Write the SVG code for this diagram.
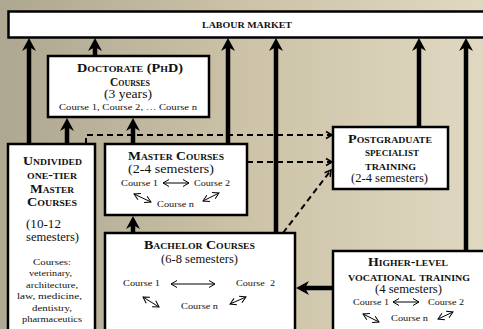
<svg xmlns="http://www.w3.org/2000/svg" width="483" height="329" viewBox="0 0 483 329">
<defs>
<linearGradient id="bg" x1="0" y1="0" x2="1" y2="0">
<stop offset="0" stop-color="#aea791"/>
<stop offset="0.5" stop-color="#cbc2a7"/>
<stop offset="1" stop-color="#e0d8c1"/>
</linearGradient>
<marker id="big" markerUnits="userSpaceOnUse" markerWidth="14" markerHeight="16" viewBox="0 -8 14 16" refX="4" refY="0" orient="auto">
<path d="M13,0 L0,-7 L4,0 L0,7 Z" fill="#000"/>
</marker>
<marker id="dash" markerUnits="userSpaceOnUse" markerWidth="10" markerHeight="10" viewBox="0 -5 10 10" refX="7" refY="0" orient="auto">
<path d="M1,-3.5 L7,0 L1,3.5" fill="none" stroke="#000" stroke-width="1.6"/>
</marker>
<marker id="sm" markerUnits="userSpaceOnUse" markerWidth="10" markerHeight="10" viewBox="0 -5 10 10" refX="7" refY="0" orient="auto-start-reverse">
<path d="M1,-3.5 L7,0 L1,3.5" fill="none" stroke="#000" stroke-width="1"/>
</marker>
</defs>
<style>
.box{fill:#fff;stroke:#000;stroke-width:2.5}
.t{font-family:"Liberation Serif","Times New Roman",serif;fill:#111;text-anchor:middle}
.h{font-weight:bold;font-variant:small-caps;font-size:11.5px}
.s{font-size:11.5px}
.c{font-size:8.5px}
.thick{stroke:#000;stroke-width:4.5;fill:none;marker-end:url(#big)}
.dsh{stroke:#000;stroke-width:2;stroke-dasharray:6 4;fill:none;marker-end:url(#dash)}
.ca{stroke:#000;stroke-width:1;fill:none;marker-start:url(#sm);marker-end:url(#sm)}
</style>
<rect width="483" height="329" fill="url(#bg)"/>

<g id="connectors">
<path class="thick" d="M29,144 V47"/>
<path class="thick" d="M95,56 V47"/>
<path class="thick" d="M228,144 V47"/>
<path class="thick" d="M276,233 V47"/>
<path class="thick" d="M419,127 V47"/>
<path class="thick" d="M466,251 V47"/>
<path class="thick" d="M67,144 V127"/>
<path class="thick" d="M133,144 V127"/>
<path class="thick" d="M133,233 V225"/>
<path class="thick" d="M333,288 H305"/>
<path class="dsh" d="M86,144 V135 H332"/>
<path class="dsh" d="M247,162 H332"/>
<path class="dsh" d="M283,233 L331,170"/>
</g>

<g id="labour-market">
<rect class="box" x="8.5" y="11.5" width="490" height="26"/>
<text class="t" x="247" y="27.5" font-size="8.5" font-weight="bold" textLength="90" lengthAdjust="spacingAndGlyphs">LABOUR MARKET</text>
</g>

<g id="doctorate">
<rect class="box" x="48" y="56" width="161" height="61"/>
<text class="t h" x="130" y="72" textLength="106" lengthAdjust="spacingAndGlyphs">Doctorate (PhD)</text>
<text class="t h" x="130" y="86" textLength="40" lengthAdjust="spacingAndGlyphs">Courses</text>
<text class="t s" x="128" y="98" textLength="48" lengthAdjust="spacingAndGlyphs">(3  years)</text>
<text class="t c" x="128" y="110" textLength="138" lengthAdjust="spacingAndGlyphs">Course 1, Course 2, … Course n</text>
</g>

<g id="undivided">
<rect class="box" x="8" y="144" width="87" height="200"/>
<text class="t h" x="52.5" y="165" textLength="59" lengthAdjust="spacingAndGlyphs">Undivided</text>
<text class="t h" x="52" y="179" textLength="50" lengthAdjust="spacingAndGlyphs">one-tier</text>
<text class="t h" x="52" y="193" textLength="44" lengthAdjust="spacingAndGlyphs">Master</text>
<text class="t h" x="52" y="206" textLength="50" lengthAdjust="spacingAndGlyphs">Courses</text>
<text class="t s" x="43.5" y="228" textLength="35" lengthAdjust="spacingAndGlyphs">(10-12</text>
<text class="t s" x="52.5" y="241" textLength="53" lengthAdjust="spacingAndGlyphs">semesters)</text>
<text class="t c" x="52" y="265" textLength="38" lengthAdjust="spacingAndGlyphs">Courses:</text>
<text class="t c" x="50.5" y="276" textLength="43" lengthAdjust="spacingAndGlyphs">veterinary,</text>
<text class="t c" x="52" y="288" textLength="52" lengthAdjust="spacingAndGlyphs">architecture,</text>
<text class="t c" x="49.5" y="299" textLength="65" lengthAdjust="spacingAndGlyphs">law, medicine,</text>
<text class="t c" x="52" y="311" textLength="40" lengthAdjust="spacingAndGlyphs">dentistry,</text>
<text class="t c" x="52" y="322" textLength="60" lengthAdjust="spacingAndGlyphs">pharmaceutics</text>
</g>

<g id="master">
<rect class="box" x="105" y="144" width="142" height="71"/>
<text class="t h" x="176" y="160" textLength="96" lengthAdjust="spacingAndGlyphs">Master Courses</text>
<text class="t s" x="171" y="173" textLength="86" lengthAdjust="spacingAndGlyphs">(2-4 semesters)</text>
<text class="t c" x="139.5" y="186" textLength="37" lengthAdjust="spacingAndGlyphs">Course 1</text>
<text class="t c" x="212" y="186" textLength="36" lengthAdjust="spacingAndGlyphs">Course 2</text>
<text class="t c" x="175.5" y="207" textLength="37" lengthAdjust="spacingAndGlyphs">Course n</text>
<path class="ca" d="M163,183 H189"/>
<path class="ca" d="M134,194 L151,202"/>
<path class="ca" d="M203,201 L219,193"/>
</g>

<g id="postgraduate">
<rect class="box" x="333" y="127" width="115" height="62"/>
<text class="t h" x="390" y="143" textLength="84" lengthAdjust="spacingAndGlyphs">Postgraduate</text>
<text class="t h" x="392" y="156" textLength="54" lengthAdjust="spacingAndGlyphs">specialist</text>
<text class="t h" x="390.5" y="170" textLength="51" lengthAdjust="spacingAndGlyphs">training</text>
<text class="t s" x="389.5" y="182" textLength="77" lengthAdjust="spacingAndGlyphs">(2-4 semesters)</text>
</g>

<g id="bachelor">
<rect class="box" x="105" y="233" width="190" height="110"/>
<text class="t h" x="199.5" y="249" textLength="111" lengthAdjust="spacingAndGlyphs">Bachelor Courses</text>
<text class="t s" x="199.5" y="263" textLength="77" lengthAdjust="spacingAndGlyphs">(6-8 semesters)</text>
<text class="t c" x="141.5" y="286" textLength="37" lengthAdjust="spacingAndGlyphs">Course 1</text>
<text class="t c" x="255.5" y="286" textLength="39" lengthAdjust="spacingAndGlyphs" xml:space="preserve">Course  2</text>
<text class="t c" x="199.5" y="309" textLength="37" lengthAdjust="spacingAndGlyphs">Course n</text>
<path class="ca" d="M171,284 H215" stroke="#777" stroke-width="1.5"/>
<path class="ca" d="M143,297 L159,307"/>
<path class="ca" d="M230,304 L246,297"/>
</g>

<g id="vocational">
<rect class="box" x="333" y="251" width="170" height="100"/>
<text class="t h" x="408" y="266" textLength="80" lengthAdjust="spacingAndGlyphs">Higher-level</text>
<text class="t h" x="409" y="281" textLength="122" lengthAdjust="spacingAndGlyphs">vocational training</text>
<text class="t s" x="408.5" y="293" textLength="67" lengthAdjust="spacingAndGlyphs">(4 semesters)</text>
<text class="t c" x="371" y="305" textLength="36" lengthAdjust="spacingAndGlyphs">Course 1</text>
<text class="t c" x="446" y="305" textLength="36" lengthAdjust="spacingAndGlyphs">Course 2</text>
<text class="t c" x="409.5" y="321" textLength="37" lengthAdjust="spacingAndGlyphs">Course n</text>
<path class="ca" d="M393,302 H419"/>
<path class="ca" d="M363,314 L379,322"/>
<path class="ca" d="M438,319 L453,312"/>
</g>
</svg>
